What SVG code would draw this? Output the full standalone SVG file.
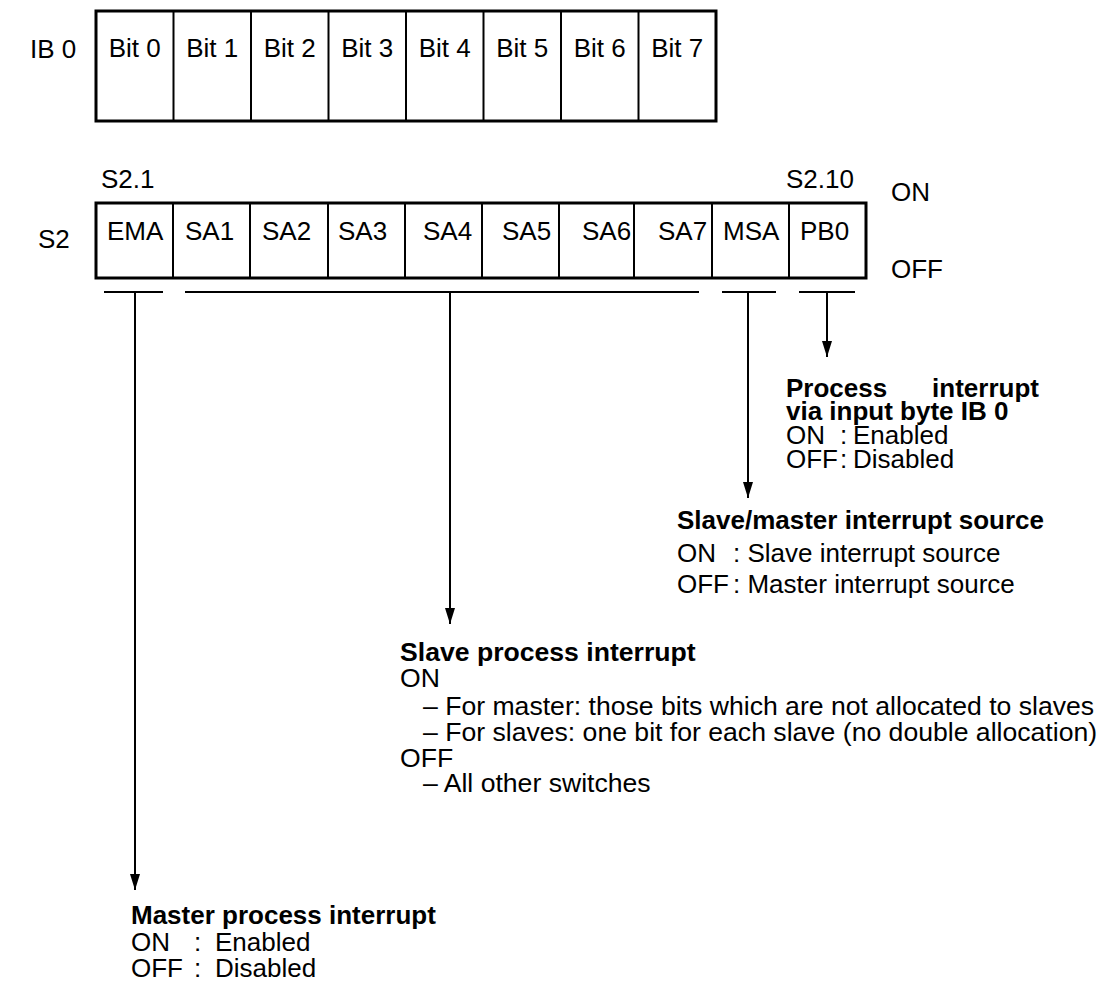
<svg xmlns="http://www.w3.org/2000/svg" width="1102" height="987" viewBox="0 0 1102 987">
<defs>
<style>
text{font-family:"Liberation Sans",Arial,sans-serif;font-size:26px;fill:#000}
.b{font-weight:bold}
.c{text-anchor:middle}
.box{fill:#fff;stroke:#000;stroke-width:3}
.div{stroke:#000;stroke-width:2}
.ln{stroke:#000;stroke-width:2;fill:none}
.big text{font-size:26.6px}
</style>
<marker id="ah" markerUnits="userSpaceOnUse" markerWidth="16" markerHeight="10" refX="16" refY="5" orient="auto" viewBox="0 0 16 10">
<path d="M0,0 L16,5 L0,10 Z" fill="#000"/>
</marker>
</defs>

<g id="ib0">
<text x="30" y="58">IB 0</text>
<rect class="box" x="96" y="11" width="620" height="110"/>
<g class="div">
<line x1="173.5" y1="11" x2="173.5" y2="121"/>
<line x1="251" y1="11" x2="251" y2="121"/>
<line x1="328.5" y1="11" x2="328.5" y2="121"/>
<line x1="406" y1="11" x2="406" y2="121"/>
<line x1="483.5" y1="11" x2="483.5" y2="121"/>
<line x1="561" y1="11" x2="561" y2="121"/>
<line x1="638.5" y1="11" x2="638.5" y2="121"/>
</g>
<g class="c">
<text x="134.75" y="57">Bit 0</text>
<text x="212.25" y="57">Bit 1</text>
<text x="289.75" y="57">Bit 2</text>
<text x="367.25" y="57">Bit 3</text>
<text x="444.75" y="57">Bit 4</text>
<text x="522.25" y="57">Bit 5</text>
<text x="599.75" y="57">Bit 6</text>
<text x="677.25" y="57">Bit 7</text>
</g>
</g>

<g id="s2">
<text x="101" y="188">S2.1</text>
<text x="786" y="188">S2.10</text>
<text x="891" y="201">ON</text>
<text x="38" y="248">S2</text>
<text x="891" y="278">OFF</text>
<rect class="box" x="96" y="203" width="770" height="75"/>
<g class="div">
<line x1="173" y1="203" x2="173" y2="278"/>
<line x1="250" y1="203" x2="250" y2="278"/>
<line x1="328" y1="203" x2="328" y2="278"/>
<line x1="405" y1="203" x2="405" y2="278"/>
<line x1="482" y1="203" x2="482" y2="278"/>
<line x1="559" y1="203" x2="559" y2="278"/>
<line x1="634" y1="203" x2="634" y2="278"/>
<line x1="712" y1="203" x2="712" y2="278"/>
<line x1="789" y1="203" x2="789" y2="278"/>
</g>
<text x="107" y="240">EMA</text>
<text x="185" y="240">SA1</text>
<text x="262" y="240">SA2</text>
<text x="338" y="240">SA3</text>
<text x="423" y="240">SA4</text>
<text x="502" y="240">SA5</text>
<text x="582" y="240">SA6</text>
<text x="658" y="240">SA7</text>
<text x="723" y="240">MSA</text>
<text x="800" y="240">PB0</text>
</g>

<g id="connectors" class="ln">
<line x1="104" y1="292" x2="163" y2="292"/>
<line x1="185" y1="292" x2="699" y2="292"/>
<line x1="722" y1="292" x2="776" y2="292"/>
<line x1="799" y1="292" x2="855" y2="292"/>
<line x1="135" y1="292" x2="135" y2="890" marker-end="url(#ah)"/>
<line x1="450" y1="292" x2="450" y2="624" marker-end="url(#ah)"/>
<line x1="748" y1="292" x2="748" y2="498" marker-end="url(#ah)"/>
<line x1="827" y1="292" x2="827" y2="357" marker-end="url(#ah)"/>
</g>

<g id="pb0-desc">
<text class="b" x="786" y="397">Process</text>
<text class="b" x="1039" y="397" text-anchor="end">interrupt</text>
<text class="b" x="786" y="420">via input byte IB 0</text>
<text x="786" y="444">ON</text><text x="840" y="444">:</text><text x="853" y="444">Enabled</text>
<text x="786" y="468">OFF</text><text x="840" y="468">:</text><text x="853" y="468">Disabled</text>
</g>

<g id="msa-desc">
<text class="b" x="677" y="529">Slave/master interrupt source</text>
<text x="677" y="562">ON</text><text x="733" y="562">: Slave interrupt source</text>
<text x="677" y="593">OFF</text><text x="733" y="593">: Master interrupt source</text>
</g>

<g id="sa-desc" class="big">
<text class="b" x="400" y="661">Slave process interrupt</text>
<text x="400" y="687">ON</text>
<text x="423" y="715">– For master: those bits which are not allocated to slaves</text>
<text x="423" y="741">– For slaves: one bit for each slave (no double allocation)</text>
<text x="400" y="767">OFF</text>
<text x="423" y="792">– All other switches</text>
</g>

<g id="ema-desc">
<text class="b" x="131" y="924">Master process interrupt</text>
<text x="131" y="951">ON</text><text x="194" y="951">:</text><text x="215" y="951">Enabled</text>
<text x="131" y="977">OFF</text><text x="194" y="977">:</text><text x="215" y="977">Disabled</text>
</g>
</svg>
